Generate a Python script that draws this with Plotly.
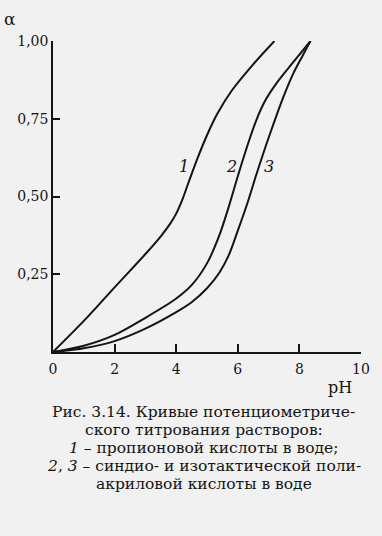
import plotly.graph_objects as go

# ---- data ----
ph_1 = [0, 1, 2, 3, 3.5, 3.8, 4.0, 4.2, 4.4, 4.7, 5.0, 5.33, 5.8, 6.5, 7.19]
alpha_1 = [0, 0.1, 0.208, 0.315, 0.372, 0.412, 0.445, 0.49, 0.545, 0.625, 0.697, 0.765, 0.84, 0.925, 1.0]

ph_2 = [0, 1, 2, 3, 4, 4.5, 5.0, 5.4, 5.7, 6.0, 6.3, 6.6, 6.9, 7.3, 7.8, 8.36]
alpha_2 = [0, 0.02, 0.055, 0.11, 0.172, 0.215, 0.285, 0.375, 0.465, 0.565, 0.66, 0.745, 0.81, 0.87, 0.932, 1.0]

ph_3 = [0, 1, 2, 3, 4, 4.5, 5.0, 5.4, 5.7, 6.0, 6.3, 6.6, 6.9, 7.2, 7.5, 7.8, 8.1, 8.36]
alpha_3 = [0, 0.012, 0.035, 0.075, 0.128, 0.16, 0.205, 0.255, 0.31, 0.39, 0.475, 0.57, 0.66, 0.745, 0.825, 0.895, 0.952, 1.0]

x_ticks = [0, 2, 4, 6, 8, 10]
x_tick_text = ["0", "2", "4", "6", "8", "10"]
y_ticks = [0.25, 0.5, 0.75, 1.0]
y_tick_text = ["0,25", "0,50", "0,75", "1,00"]

curve_labels = ["1", "2", "3"]
curve_label_ph = [4.24, 5.79, 7.02]
curve_label_alpha = [0.595, 0.595, 0.595]

caption_lines = [
    "Рис. 3.14. Кривые потенциометриче-",
    "ского титрования растворов:",
    "<i>1</i> – пропионовой кислоты в воде;",
    "<i>2</i>, <i>3</i> – синдио- и изотактической поли-",
    "акриловой кислоты в воде",
]

W, H = 382, 536
L, R, T, B = 53, 16, 41, 184
FONT = "DejaVu Serif, Liberation Serif, serif"
INK = "#141414"
BG = "#f1f1f1"


def px_to_paper(px, py):
    return (px - L) / (W - L - R), (H - B - py) / (H - T - B)


fig = go.Figure()
for xs, ys in [(ph_1, alpha_1), (ph_2, alpha_2), (ph_3, alpha_3)]:
    fig.add_trace(go.Scatter(x=xs, y=ys, mode="lines",
                             line=dict(color=INK, width=2, shape="spline", smoothing=0.9),
                             cliponaxis=False, showlegend=False, hoverinfo="skip"))

for t, xv, yv in zip(curve_labels, curve_label_ph, curve_label_alpha):
    fig.add_annotation(x=xv, y=yv, text=f"<i>{t}</i>", showarrow=False,
                       xanchor="center", yanchor="middle",
                       font=dict(family=FONT, size=16, color=INK))

# axis titles
ax, ay = px_to_paper(9, 19)
fig.add_annotation(x=ax, y=ay, xref="paper", yref="paper", text="α", showarrow=False,
                   xanchor="center", yanchor="middle", font=dict(family=FONT, size=17, color=INK))
ax, ay = px_to_paper(345, 387)
fig.add_annotation(x=ax, y=ay, xref="paper", yref="paper", text="pH", showarrow=False,
                   xanchor="center", yanchor="middle", font=dict(family=FONT, size=16, color=INK))

# caption
for i, line in enumerate(caption_lines):
    cx, cy = px_to_paper(206, 412 + 18 * i)
    fig.add_annotation(x=cx, y=cy, xref="paper", yref="paper", text=line, showarrow=False,
                       xanchor="center", yanchor="middle",
                       font=dict(family=FONT, size=15.5, color=INK))

fig.update_layout(
    width=W, height=H,
    margin=dict(l=L, r=R, t=T, b=B, pad=0),
    paper_bgcolor=BG, plot_bgcolor=BG,
    showlegend=False,
)
fig.update_xaxes(range=[0, 10], tickvals=x_ticks, ticktext=x_tick_text,
                 ticks="inside", ticklen=8, tickwidth=1.5, tickcolor=INK,
                 showline=True, linecolor=INK, linewidth=1.5, showgrid=False, zeroline=False,
                 tickfont=dict(family=FONT, size=14, color=INK), ticklabelstandoff=3)
fig.update_yaxes(range=[0, 1], tickvals=y_ticks, ticktext=y_tick_text,
                 ticks="inside", ticklen=7, tickwidth=1.5, tickcolor=INK,
                 showline=True, linecolor=INK, linewidth=1.5, showgrid=False, zeroline=False,
                 tickfont=dict(family=FONT, size=14, color=INK), ticklabelstandoff=0)

fig.write_html("out.html",
               config={"displayModeBar": False},
               post_script="document.body.style.margin='0';document.body.style.background='#f1f1f1';")
